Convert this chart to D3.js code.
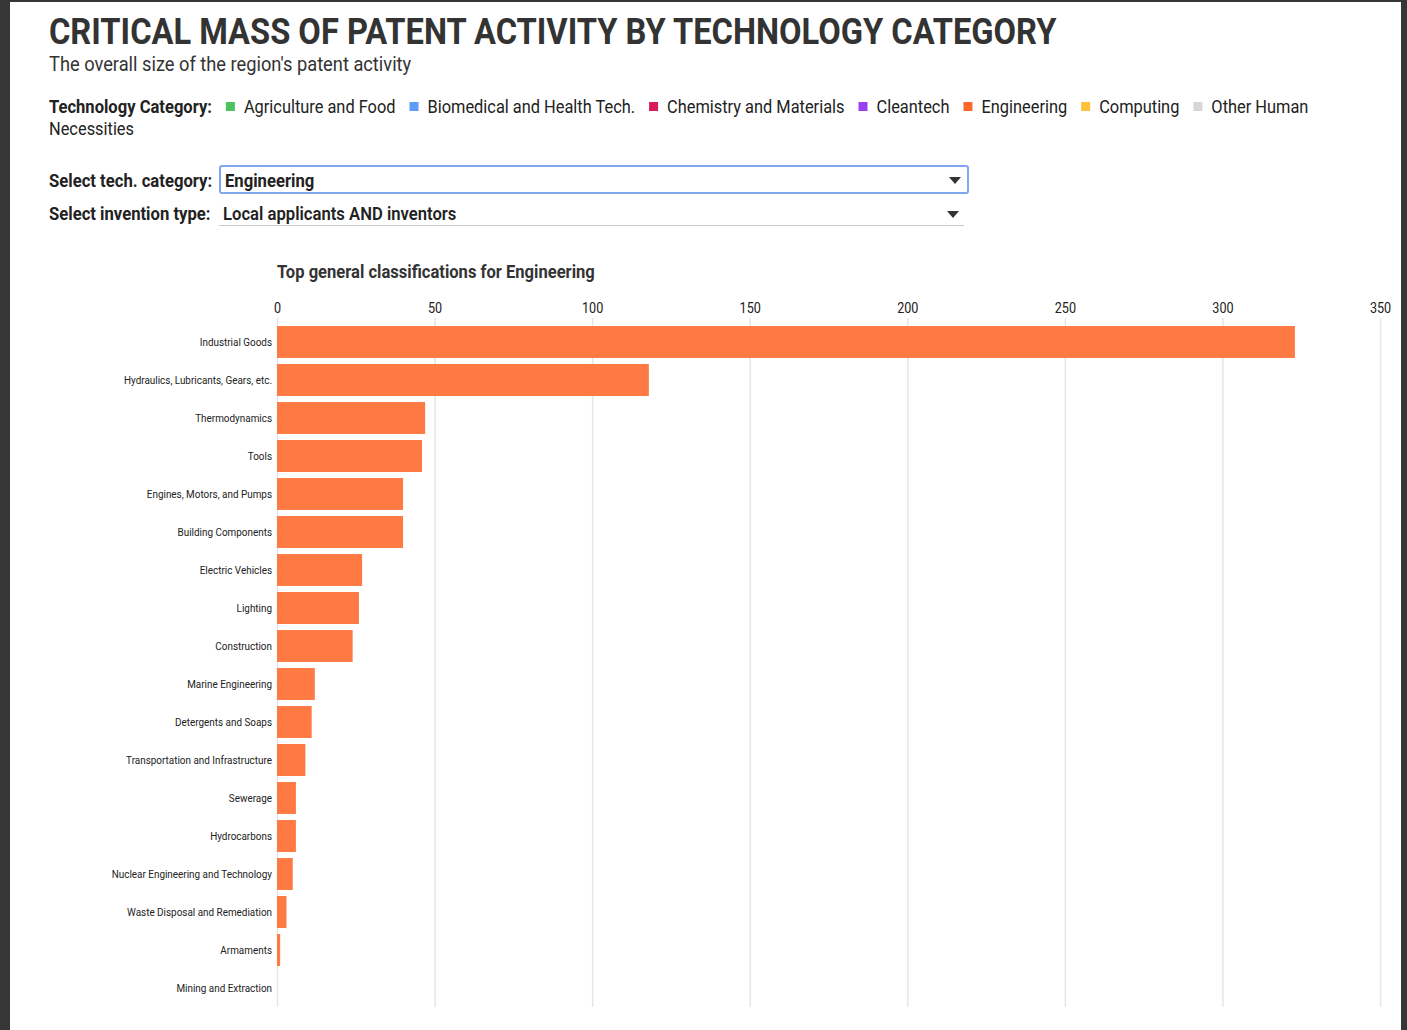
<!DOCTYPE html>
<html><head><meta charset="utf-8">
<script src="https://cdn.jsdelivr.net/npm/d3@7"></script>
<style>
html,body{margin:0;padding:0;background:#363636;}
svg{display:block;font-family:Roboto,"Noto Sans",sans-serif;}
</style></head>
<body>
<svg id="c" width="1407" height="1030"></svg>
<script>
const categories = ["Industrial Goods","Hydraulics, Lubricants, Gears, etc.","Thermodynamics","Tools","Engines, Motors, and Pumps","Building Components","Electric Vehicles","Lighting","Construction","Marine Engineering","Detergents and Soaps","Transportation and Infrastructure","Sewerage","Hydrocarbons","Nuclear Engineering and Technology","Waste Disposal and Remediation","Armaments","Mining and Extraction"];
const values = [323,118,47,46,40,40,27,26,24,12,11,9,6,6,5,3,1,0];
const xTicks = [0,50,100,150,200,250,300,350];
const legendNames = ["Agriculture and Food","Biomedical and Health Tech.","Chemistry and Materials","Cleantech","Engineering","Computing","Other Human"];
const legendColors = ["#4cc35c","#5c9cf5","#d81b5a","#9a3ff0","#ff6a2b","#ffc13a","#d6d6d6"];
const titleText = "CRITICAL MASS OF PATENT ACTIVITY BY TECHNOLOGY CATEGORY";
const subtitleText = "The overall size of the region's patent activity";
const chartTitle = "Top general classifications for Engineering";

const svg = d3.select("#c");
const CF = 0.91; // condense factor to mimic a condensed face
function condense(sel, f){
  let last = 0;
  sel.each(function(){
    const w = this.getComputedTextLength();
    if (w > 0) { last = w*(f||CF); d3.select(this).attr("textLength", last).attr("lengthAdjust","spacingAndGlyphs"); }
  });
  return last;
}

// frame + panel
svg.append("rect").attr("x",0).attr("y",0).attr("width",1407).attr("height",1030).attr("fill","#363636");
svg.append("rect").attr("x",10).attr("y",2).attr("width",1391).attr("height",1028).attr("fill","#ffffff");

// titles
condense(svg.append("text").attr("x",49).attr("y",44).attr("font-size",36).attr("font-weight",700).attr("fill","#333").text(titleText), 0.907);
condense(svg.append("text").attr("x",49).attr("y",71).attr("font-size",20).attr("fill","#333").text(subtitleText), 0.913);

// legend
const lg = svg.append("g").attr("font-size",18).attr("fill","#222");
const lw = condense(lg.append("text").attr("x",49).attr("y",113).attr("font-weight",700).text("Technology Category:"), 0.92);
let lx = 49 + lw + 14;
legendNames.forEach((n,i)=>{
  lg.append("rect").attr("x",lx).attr("y",102).attr("width",9).attr("height",9).attr("fill",legendColors[i]);
  const w = condense(lg.append("text").attr("x",lx+18).attr("y",113).text(n), 0.91);
  lx += 18 + w + 14;
});
condense(lg.append("text").attr("x",49).attr("y",135).text("Necessities"), 0.91);

// selectors
const sg = svg.append("g").attr("font-size",18).attr("fill","#222");
condense(sg.append("text").attr("x",49).attr("y",187).attr("font-weight",700).text("Select tech. category:"), 0.925);
sg.append("rect").attr("x",220).attr("y",166).attr("width",748).attr("height",27).attr("rx",2).attr("fill","#fff").attr("stroke","#7fa6ee").attr("stroke-width",2);
condense(sg.append("text").attr("x",225).attr("y",187).attr("font-weight",700).text("Engineering"), 0.925);
sg.append("path").attr("d","M949,177 L961,177 L955,184 Z").attr("fill","#333");
condense(sg.append("text").attr("x",49).attr("y",220).attr("font-weight",700).text("Select invention type:"), 0.925);
condense(sg.append("text").attr("x",223).attr("y",220).attr("font-weight",600).text("Local applicants AND inventors"), 0.925);
sg.append("line").attr("x1",219).attr("x2",964).attr("y1",225.5).attr("y2",225.5).attr("stroke","#c8c8c8");
sg.append("path").attr("d","M947,211 L959,211 L953,218 Z").attr("fill","#333");

// chart
condense(svg.append("text").attr("x",277).attr("y",278).attr("font-size",18).attr("font-weight",700).attr("fill","#333").text(chartTitle), 0.92);

const x = d3.scaleLinear().domain([0,350]).range([277,1380]);
const y = d3.scaleBand().domain(categories).range([323,1007]).paddingInner(0.16).paddingOuter(0.08);

// grid
svg.append("g").selectAll("line").data(xTicks).join("line")
  .attr("x1",d=>x(d)+0.5).attr("x2",d=>x(d)+0.5).attr("y1",318).attr("y2",1007)
  .attr("stroke","#e6e6e6").attr("stroke-width",1.5);

// top axis labels
const ax = svg.append("g").attr("transform","translate(0,318)")
  .call(d3.axisTop(x).tickValues(xTicks).tickSize(0).tickPadding(5));
ax.select(".domain").remove();
ax.selectAll("text").attr("font-size",14).attr("fill","#222").attr("font-family","Roboto,sans-serif");
condense(ax.selectAll("text"), 0.9);

// bars
svg.append("g").selectAll("rect").data(values).join("rect")
  .attr("x",x(0)).attr("y",(d,i)=>y(categories[i]))
  .attr("width",d=>Math.max(0,x(d)-x(0))).attr("height",y.bandwidth())
  .attr("fill","#ff7a42");

// left labels
const ay = svg.append("g").attr("transform",`translate(${x(0)},0)`)
  .call(d3.axisLeft(y).tickSize(0).tickPadding(5));
ay.select(".domain").remove();
ay.selectAll("text").attr("font-size",11).attr("fill","#222").attr("font-family","Roboto,sans-serif");
condense(ay.selectAll("text"), 0.9);
</script>
</body></html>
